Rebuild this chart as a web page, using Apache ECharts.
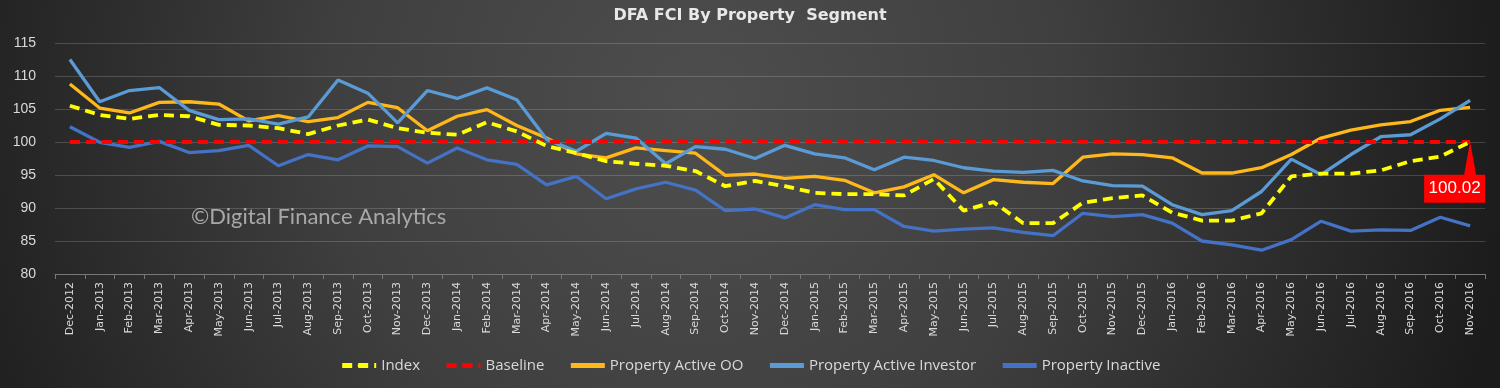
<!DOCTYPE html>
<html>
<head>
<meta charset="utf-8">
<script src="https://cdn.jsdelivr.net/npm/echarts@6/dist/echarts.min.js"></script>
<style>
  html, body { margin: 0; padding: 0; background: #2a2a2a; }
  #chart { width: 1500px; height: 388px; }
</style>
</head>
<body>
<div id="chart"></div>
<script>
const categories = ['Dec-2012','Jan-2013','Feb-2013','Mar-2013','Apr-2013','May-2013','Jun-2013','Jul-2013','Aug-2013','Sep-2013','Oct-2013','Nov-2013','Dec-2013','Jan-2014','Feb-2014','Mar-2014','Apr-2014','May-2014','Jun-2014','Jul-2014','Aug-2014','Sep-2014','Oct-2014','Nov-2014','Dec-2014','Jan-2015','Feb-2015','Mar-2015','Apr-2015','May-2015','Jun-2015','Jul-2015','Aug-2015','Sep-2015','Oct-2015','Nov-2015','Dec-2015','Jan-2016','Feb-2016','Mar-2016','Apr-2016','May-2016','Jun-2016','Jul-2016','Aug-2016','Sep-2016','Oct-2016','Nov-2016'];

const indexValues = [105.5, 104.1, 103.5, 104.1, 103.9, 102.6, 102.5, 102.1, 101.2, 102.5, 103.4, 102.1, 101.4, 101.1, 103.0, 101.6, 99.4, 98.3, 97.1, 96.7, 96.4, 95.6, 93.3, 94.1, 93.3, 92.3, 92.1, 92.1, 91.9, 94.4, 89.6, 90.9, 87.7, 87.7, 90.8, 91.5, 91.9, 89.3, 88.1, 88.1, 89.2, 94.8, 95.2, 95.2, 95.7, 97.1, 97.8, 100.02];

const baselineValues = [100,100,100,100,100,100,100,100,100,100,100,100,100,100,100,100,100,100,100,100,100,100,100,100,100,100,100,100,100,100,100,100,100,100,100,100,100,100,100,100,100,100,100,100,100,100,100,100];

const activeOOValues = [108.8, 105.15, 104.4, 106.0, 106.1, 105.75, 103.2, 104.0, 103.1, 103.7, 106.0, 105.2, 101.7, 103.9, 104.9, 102.5, 100.6, 98.2, 97.6, 99.1, 98.7, 98.3, 94.95, 95.15, 94.5, 94.8, 94.2, 92.3, 93.2, 95.05, 92.3, 94.3, 93.9, 93.7, 97.7, 98.2, 98.1, 97.6, 95.3, 95.3, 96.1, 98.1, 100.6, 101.8, 102.6, 103.1, 104.8, 105.25];

const activeInvestorValues = [112.5, 106.1, 107.8, 108.25, 104.8, 103.4, 103.5, 102.7, 103.8, 109.4, 107.4, 102.9, 107.8, 106.6, 108.2, 106.4, 100.4, 98.6, 101.3, 100.6, 96.7, 99.3, 98.9, 97.5, 99.5, 98.2, 97.6, 95.8, 97.7, 97.2, 96.1, 95.6, 95.4, 95.7, 94.1, 93.4, 93.3, 90.5, 89.0, 89.6, 92.5, 97.4, 95.05, 98.1, 100.8, 101.1, 103.5, 106.3];

const inactiveValues = [102.3, 99.95, 99.2, 100.1, 98.4, 98.7, 99.5, 96.4, 98.1, 97.3, 99.4, 99.3, 96.8, 99.1, 97.3, 96.6, 93.5, 94.8, 91.4, 92.9, 93.9, 92.7, 89.6, 89.85, 88.5, 90.5, 89.75, 89.75, 87.2, 86.5, 86.8, 87.0, 86.3, 85.8, 89.2, 88.7, 89.0, 87.7, 85.0, 84.4, 83.6, 85.2, 88.0, 86.5, 86.7, 86.6, 88.6, 87.3];

const yTicks = { min: 80, max: 115, interval: 5 };

const chart = echarts.init(document.getElementById('chart'), null, { renderer: 'canvas' });

const lastIdx = indexValues.length - 1;

const option = {
  backgroundColor: {
    type: 'radial', x: 700, y: 110, r: 820, global: true,
    colorStops: [
      { offset: 0, color: '#4e4e4e' },
      { offset: 0.45, color: '#3f3f3f' },
      { offset: 1, color: '#1b1b1b' }
    ]
  },
  animation: false,
  title: {
    text: 'DFA FCI By Property  Segment',
    left: 'center', top: 3,
    textStyle: { color: '#e8e8e8', fontSize: 16, fontWeight: 'bold', fontFamily: 'DejaVu Sans, sans-serif' }
  },
  graphic: [{
    type: 'text', left: 191, top: 206, silent: true,
    style: { text: '©Digital Finance Analytics', fill: '#a8a8a8', font: '22px Lato, sans-serif' }
  }],
  legend: {
    bottom: 10, left: 'center', itemGap: 24, itemWidth: 34, itemHeight: 4,
    lineStyle: { width: 5 },
    textStyle: { color: '#d9d9d9', fontSize: 15, fontFamily: '"Liberation Sans Narrow", "Open Sans", sans-serif' },
    data: ['Index', 'Baseline', 'Property Active OO', 'Property Active Investor', 'Property Inactive']
  },
  grid: { left: 55, right: 15, top: 43, bottom: 114, containLabel: false },
  xAxis: {
    type: 'category', data: categories, boundaryGap: true,
    axisLine: { lineStyle: { color: '#777777', width: 1 } },
    axisTick: { show: true, length: 5, lineStyle: { color: '#777777' } },
    axisLabel: { rotate: 90, color: '#d9d9d9', fontSize: 11, fontFamily: 'DejaVu Sans, sans-serif', margin: 8, interval: 0 }
  },
  yAxis: {
    type: 'value', min: yTicks.min, max: yTicks.max, interval: yTicks.interval,
    axisLine: { show: false }, axisTick: { show: false },
    axisLabel: { color: '#d9d9d9', fontSize: 14, fontFamily: 'Liberation Sans, sans-serif', margin: 19 },
    splitLine: { lineStyle: { color: 'rgba(255,255,255,0.17)', width: 1 } }
  },
  series: [
    {
      name: 'Index', type: 'line', data: indexValues, symbol: 'none', z: 5,
      itemStyle: { color: '#ffff00' },
      lineStyle: { color: '#ffff00', width: 3.8, type: [10, 6] },
      markPoint: {
        symbol: 'path://M46 0 L52 33 L61 33 L61 61 L0 61 L0 33 L40 33 Z',
        symbolSize: [61, 61], symbolKeepAspect: true,
        symbolOffset: [-15.5, 30.5],
        itemStyle: { color: '#ff0000' },
        label: {
          show: true, position: 'inside', offset: [0, 16], color: '#ffffff',
          fontSize: 17, fontFamily: 'Liberation Sans, sans-serif',
          formatter: (p) => p.value.toFixed(2)
        },
        data: [{ coord: [categories[lastIdx], indexValues[lastIdx]], value: indexValues[lastIdx] }]
      }
    },
    {
      name: 'Baseline', type: 'line', data: baselineValues, symbol: 'none', z: 4,
      itemStyle: { color: '#ff0000' },
      lineStyle: { color: '#ff0000', width: 3.8, type: [10, 6] }
    },
    {
      name: 'Property Active OO', type: 'line', data: activeOOValues, symbol: 'none', z: 3,
      itemStyle: { color: '#ffb819' },
      lineStyle: { color: '#ffb819', width: 3.3 }
    },
    {
      name: 'Property Active Investor', type: 'line', data: activeInvestorValues, symbol: 'none', z: 3,
      itemStyle: { color: '#5b9bd5' },
      lineStyle: { color: '#5b9bd5', width: 3.3 }
    },
    {
      name: 'Property Inactive', type: 'line', data: inactiveValues, symbol: 'none', z: 3,
      itemStyle: { color: '#4472c4' },
      lineStyle: { color: '#4472c4', width: 3.3 }
    }
  ]
};
chart.setOption(option);
</script>
</body>
</html>
